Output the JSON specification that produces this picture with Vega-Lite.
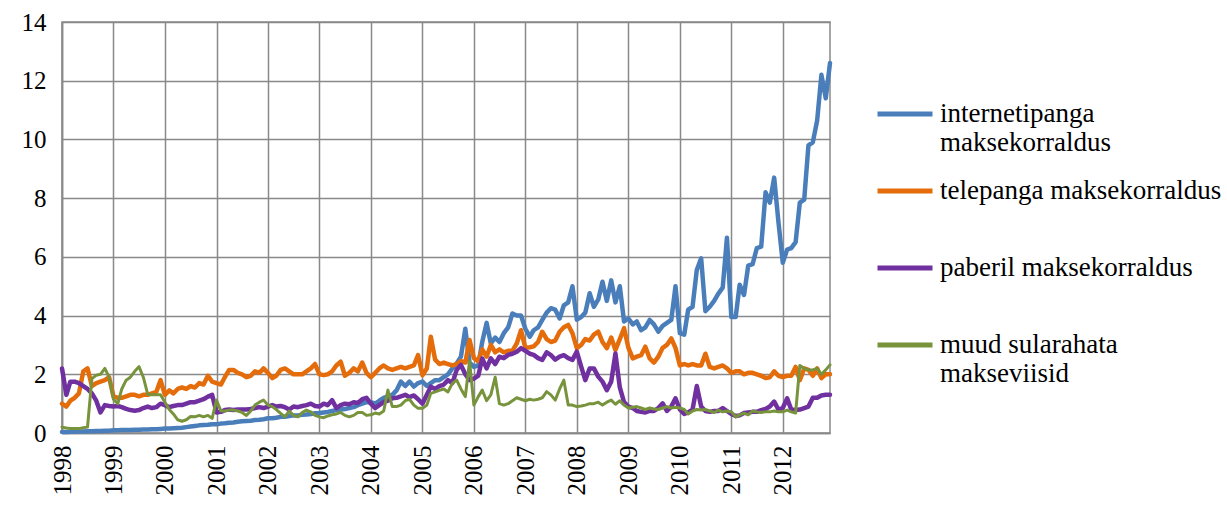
{
"$schema": "https://vega.github.io/schema/vega-lite/v6.json",
"width": 768, "height": 411,
"autosize": {"type": "none"},
"padding": {"left": 62, "top": 22, "right": 397, "bottom": 73},
"background": "white",
"config": {"font": "Liberation Serif", "view": {"stroke": "#898989", "strokeWidth": 1.5},
           "legend": {"labelFont": "Liberation Serif", "titleFont": "Liberation Serif"}},
"data": {"values": [
{"d":"1998-01-01","internet":0.03,"tele":1.0,"paber":2.2,"muud":0.2},
{"d":"1998-02-01","internet":0.03,"tele":0.9,"paber":1.3,"muud":0.17},
{"d":"1998-03-01","internet":0.04,"tele":1.1,"paber":1.75,"muud":0.15},
{"d":"1998-04-01","internet":0.04,"tele":1.2,"paber":1.75,"muud":0.15},
{"d":"1998-05-01","internet":0.05,"tele":1.35,"paber":1.7,"muud":0.15},
{"d":"1998-06-01","internet":0.05,"tele":2.1,"paber":1.6,"muud":0.18},
{"d":"1998-07-01","internet":0.06,"tele":2.2,"paber":1.5,"muud":0.2},
{"d":"1998-08-01","internet":0.06,"tele":1.6,"paber":1.35,"muud":1.85},
{"d":"1998-09-01","internet":0.07,"tele":1.7,"paber":1.1,"muud":1.97},
{"d":"1998-10-01","internet":0.07,"tele":1.75,"paber":0.7,"muud":2.0},
{"d":"1998-11-01","internet":0.08,"tele":1.8,"paber":0.95,"muud":2.2},
{"d":"1998-12-01","internet":0.08,"tele":1.9,"paber":0.92,"muud":1.9},
{"d":"1999-01-01","internet":0.09,"tele":1.25,"paber":0.9,"muud":1.15},
{"d":"1999-02-01","internet":0.09,"tele":1.2,"paber":0.92,"muud":1.0},
{"d":"1999-03-01","internet":0.1,"tele":1.2,"paber":0.88,"muud":1.5},
{"d":"1999-04-01","internet":0.1,"tele":1.25,"paber":0.82,"muud":1.8},
{"d":"1999-05-01","internet":0.1,"tele":1.3,"paber":0.78,"muud":1.9},
{"d":"1999-06-01","internet":0.11,"tele":1.3,"paber":0.76,"muud":2.1},
{"d":"1999-07-01","internet":0.11,"tele":1.25,"paber":0.78,"muud":2.26},
{"d":"1999-08-01","internet":0.12,"tele":1.3,"paber":0.85,"muud":1.9},
{"d":"1999-09-01","internet":0.12,"tele":1.3,"paber":0.9,"muud":1.32},
{"d":"1999-10-01","internet":0.13,"tele":1.35,"paber":0.85,"muud":1.3},
{"d":"1999-11-01","internet":0.13,"tele":1.4,"paber":0.88,"muud":1.3},
{"d":"1999-12-01","internet":0.14,"tele":1.8,"paber":1.0,"muud":1.3},
{"d":"2000-01-01","internet":0.15,"tele":1.3,"paber":0.95,"muud":1.05},
{"d":"2000-02-01","internet":0.15,"tele":1.45,"paber":0.88,"muud":0.8},
{"d":"2000-03-01","internet":0.16,"tele":1.35,"paber":0.92,"muud":0.65},
{"d":"2000-04-01","internet":0.17,"tele":1.5,"paber":0.95,"muud":0.45},
{"d":"2000-05-01","internet":0.18,"tele":1.55,"paber":0.95,"muud":0.4},
{"d":"2000-06-01","internet":0.2,"tele":1.5,"paber":1.0,"muud":0.45},
{"d":"2000-07-01","internet":0.22,"tele":1.6,"paber":1.05,"muud":0.56},
{"d":"2000-08-01","internet":0.24,"tele":1.55,"paber":1.05,"muud":0.55},
{"d":"2000-09-01","internet":0.26,"tele":1.7,"paber":1.1,"muud":0.6},
{"d":"2000-10-01","internet":0.27,"tele":1.65,"paber":1.15,"muud":0.55},
{"d":"2000-11-01","internet":0.28,"tele":1.95,"paber":1.24,"muud":0.6},
{"d":"2000-12-01","internet":0.3,"tele":1.75,"paber":1.3,"muud":0.5},
{"d":"2001-01-01","internet":0.3,"tele":1.7,"paber":0.7,"muud":1.12},
{"d":"2001-02-01","internet":0.32,"tele":1.65,"paber":0.72,"muud":0.75},
{"d":"2001-03-01","internet":0.33,"tele":1.9,"paber":0.78,"muud":0.75},
{"d":"2001-04-01","internet":0.35,"tele":2.15,"paber":0.8,"muud":0.78},
{"d":"2001-05-01","internet":0.36,"tele":2.15,"paber":0.78,"muud":0.78},
{"d":"2001-06-01","internet":0.38,"tele":2.05,"paber":0.8,"muud":0.75},
{"d":"2001-07-01","internet":0.4,"tele":2.0,"paber":0.8,"muud":0.7},
{"d":"2001-08-01","internet":0.41,"tele":1.9,"paber":0.8,"muud":0.6},
{"d":"2001-09-01","internet":0.42,"tele":1.95,"paber":0.82,"muud":0.75},
{"d":"2001-10-01","internet":0.44,"tele":2.1,"paber":0.85,"muud":0.95},
{"d":"2001-11-01","internet":0.45,"tele":2.05,"paber":0.88,"muud":1.05},
{"d":"2001-12-01","internet":0.47,"tele":2.2,"paber":0.85,"muud":1.12},
{"d":"2002-01-01","internet":0.5,"tele":2.05,"paber":0.9,"muud":0.95},
{"d":"2002-02-01","internet":0.5,"tele":1.87,"paber":0.95,"muud":0.9},
{"d":"2002-03-01","internet":0.52,"tele":1.95,"paber":0.9,"muud":0.8},
{"d":"2002-04-01","internet":0.55,"tele":2.15,"paber":0.92,"muud":0.67},
{"d":"2002-05-01","internet":0.55,"tele":2.2,"paber":0.88,"muud":0.55},
{"d":"2002-06-01","internet":0.58,"tele":2.1,"paber":0.8,"muud":0.75},
{"d":"2002-07-01","internet":0.6,"tele":2.0,"paber":0.9,"muud":0.6},
{"d":"2002-08-01","internet":0.6,"tele":2.0,"paber":0.88,"muud":0.55},
{"d":"2002-09-01","internet":0.62,"tele":2.0,"paber":0.92,"muud":0.7},
{"d":"2002-10-01","internet":0.63,"tele":2.1,"paber":0.95,"muud":0.78},
{"d":"2002-11-01","internet":0.65,"tele":2.2,"paber":1.0,"muud":0.72},
{"d":"2002-12-01","internet":0.67,"tele":2.35,"paber":0.92,"muud":0.6},
{"d":"2003-01-01","internet":0.68,"tele":2.0,"paber":0.9,"muud":0.55},
{"d":"2003-02-01","internet":0.7,"tele":1.97,"paber":1.0,"muud":0.52},
{"d":"2003-03-01","internet":0.72,"tele":2.0,"paber":0.95,"muud":0.58},
{"d":"2003-04-01","internet":0.75,"tele":2.1,"paber":1.12,"muud":0.62},
{"d":"2003-05-01","internet":0.78,"tele":2.3,"paber":0.85,"muud":0.65},
{"d":"2003-06-01","internet":0.8,"tele":2.43,"paber":0.95,"muud":0.7},
{"d":"2003-07-01","internet":0.82,"tele":1.95,"paber":1.0,"muud":0.6},
{"d":"2003-08-01","internet":0.85,"tele":2.05,"paber":0.98,"muud":0.55},
{"d":"2003-09-01","internet":0.88,"tele":2.2,"paber":1.05,"muud":0.6},
{"d":"2003-10-01","internet":0.95,"tele":2.1,"paber":1.02,"muud":0.7},
{"d":"2003-11-01","internet":1.0,"tele":2.4,"paber":1.15,"muud":0.7},
{"d":"2003-12-01","internet":1.05,"tele":2.05,"paber":1.2,"muud":0.6},
{"d":"2004-01-01","internet":1.05,"tele":1.9,"paber":1.0,"muud":0.62},
{"d":"2004-02-01","internet":1.0,"tele":2.05,"paber":0.85,"muud":0.68},
{"d":"2004-03-01","internet":1.1,"tele":2.2,"paber":0.95,"muud":0.65},
{"d":"2004-04-01","internet":1.2,"tele":2.3,"paber":1.05,"muud":0.75},
{"d":"2004-05-01","internet":1.25,"tele":2.2,"paber":1.1,"muud":1.46},
{"d":"2004-06-01","internet":1.3,"tele":2.15,"paber":1.18,"muud":0.9},
{"d":"2004-07-01","internet":1.45,"tele":2.2,"paber":1.2,"muud":0.9},
{"d":"2004-08-01","internet":1.75,"tele":2.25,"paber":1.25,"muud":0.95},
{"d":"2004-09-01","internet":1.6,"tele":2.2,"paber":1.3,"muud":1.1},
{"d":"2004-10-01","internet":1.75,"tele":2.25,"paber":1.22,"muud":1.15},
{"d":"2004-11-01","internet":1.58,"tele":2.3,"paber":1.28,"muud":0.95},
{"d":"2004-12-01","internet":1.7,"tele":2.65,"paber":1.15,"muud":0.84},
{"d":"2005-01-01","internet":1.75,"tele":1.97,"paber":1.0,"muud":0.84},
{"d":"2005-02-01","internet":1.6,"tele":2.2,"paber":1.3,"muud":0.95},
{"d":"2005-03-01","internet":1.7,"tele":3.28,"paber":1.58,"muud":1.35},
{"d":"2005-04-01","internet":1.8,"tele":2.5,"paber":1.5,"muud":1.4},
{"d":"2005-05-01","internet":1.8,"tele":2.35,"paber":1.6,"muud":1.45},
{"d":"2005-06-01","internet":1.9,"tele":2.4,"paber":1.65,"muud":1.5},
{"d":"2005-07-01","internet":2.0,"tele":2.35,"paber":1.8,"muud":1.4},
{"d":"2005-08-01","internet":2.2,"tele":2.3,"paber":1.7,"muud":1.69},
{"d":"2005-09-01","internet":2.37,"tele":2.35,"paber":2.15,"muud":1.8},
{"d":"2005-10-01","internet":2.6,"tele":2.45,"paber":2.32,"muud":1.5},
{"d":"2005-11-01","internet":3.55,"tele":2.4,"paber":2.0,"muud":1.24},
{"d":"2005-12-01","internet":2.4,"tele":3.17,"paber":1.8,"muud":2.45},
{"d":"2006-01-01","internet":2.25,"tele":2.55,"paber":1.85,"muud":0.95},
{"d":"2006-02-01","internet":2.3,"tele":2.45,"paber":1.95,"muud":1.24},
{"d":"2006-03-01","internet":3.1,"tele":2.85,"paber":2.54,"muud":1.46},
{"d":"2006-04-01","internet":3.75,"tele":2.6,"paber":2.2,"muud":1.1},
{"d":"2006-05-01","internet":3.05,"tele":3.0,"paber":2.54,"muud":1.3},
{"d":"2006-06-01","internet":3.25,"tele":2.75,"paber":2.35,"muud":1.9},
{"d":"2006-07-01","internet":3.1,"tele":2.85,"paber":2.6,"muud":1.0},
{"d":"2006-08-01","internet":3.4,"tele":2.75,"paber":2.55,"muud":0.95},
{"d":"2006-09-01","internet":3.6,"tele":2.8,"paber":2.66,"muud":1.0},
{"d":"2006-10-01","internet":4.07,"tele":2.8,"paber":2.7,"muud":1.1},
{"d":"2006-11-01","internet":4.0,"tele":3.05,"paber":2.77,"muud":1.2},
{"d":"2006-12-01","internet":4.0,"tele":3.5,"paber":2.89,"muud":1.15},
{"d":"2007-01-01","internet":3.55,"tele":2.9,"paber":2.8,"muud":1.1},
{"d":"2007-02-01","internet":3.28,"tele":2.92,"paber":2.7,"muud":1.15},
{"d":"2007-03-01","internet":3.5,"tele":2.95,"paber":2.66,"muud":1.12},
{"d":"2007-04-01","internet":3.6,"tele":3.1,"paber":2.55,"muud":1.15},
{"d":"2007-05-01","internet":3.85,"tele":3.45,"paber":2.49,"muud":1.2},
{"d":"2007-06-01","internet":4.1,"tele":3.2,"paber":2.75,"muud":1.41},
{"d":"2007-07-01","internet":4.25,"tele":3.1,"paber":2.65,"muud":1.3},
{"d":"2007-08-01","internet":4.2,"tele":3.15,"paber":2.5,"muud":1.12},
{"d":"2007-09-01","internet":3.9,"tele":3.45,"paber":2.6,"muud":1.5},
{"d":"2007-10-01","internet":4.35,"tele":3.6,"paber":2.65,"muud":1.8},
{"d":"2007-11-01","internet":4.45,"tele":3.68,"paber":2.55,"muud":0.95},
{"d":"2007-12-01","internet":5.0,"tele":3.4,"paber":2.49,"muud":0.95},
{"d":"2008-01-01","internet":3.86,"tele":2.89,"paber":2.77,"muud":0.9},
{"d":"2008-02-01","internet":3.95,"tele":3.0,"paber":2.26,"muud":0.92},
{"d":"2008-03-01","internet":4.1,"tele":3.2,"paber":1.8,"muud":0.95},
{"d":"2008-04-01","internet":4.76,"tele":3.15,"paber":2.2,"muud":1.0},
{"d":"2008-05-01","internet":4.3,"tele":3.35,"paber":2.2,"muud":1.0},
{"d":"2008-06-01","internet":4.55,"tele":3.45,"paber":1.92,"muud":1.05},
{"d":"2008-07-01","internet":5.15,"tele":3.1,"paber":1.75,"muud":0.95},
{"d":"2008-08-01","internet":4.5,"tele":2.89,"paber":1.46,"muud":1.05},
{"d":"2008-09-01","internet":5.2,"tele":3.25,"paber":1.75,"muud":1.12},
{"d":"2008-10-01","internet":4.45,"tele":2.83,"paber":2.71,"muud":0.98},
{"d":"2008-11-01","internet":5.0,"tele":3.2,"paber":1.55,"muud":1.1},
{"d":"2008-12-01","internet":3.8,"tele":3.57,"paber":1.05,"muud":0.95},
{"d":"2009-01-01","internet":3.9,"tele":2.9,"paber":0.9,"muud":0.85},
{"d":"2009-02-01","internet":3.7,"tele":2.54,"paber":0.85,"muud":0.88},
{"d":"2009-03-01","internet":3.8,"tele":2.6,"paber":0.75,"muud":0.9},
{"d":"2009-04-01","internet":3.5,"tele":2.65,"paber":0.72,"muud":0.85},
{"d":"2009-05-01","internet":3.6,"tele":2.94,"paber":0.7,"muud":0.8},
{"d":"2009-06-01","internet":3.85,"tele":2.54,"paber":0.75,"muud":0.85},
{"d":"2009-07-01","internet":3.7,"tele":2.4,"paber":0.75,"muud":0.82},
{"d":"2009-08-01","internet":3.45,"tele":2.6,"paber":0.85,"muud":0.8},
{"d":"2009-09-01","internet":3.65,"tele":2.9,"paber":1.01,"muud":0.85},
{"d":"2009-10-01","internet":3.75,"tele":3.0,"paber":0.75,"muud":0.9},
{"d":"2009-11-01","internet":3.85,"tele":3.22,"paber":0.9,"muud":0.85},
{"d":"2009-12-01","internet":5.0,"tele":2.9,"paber":1.18,"muud":0.88},
{"d":"2010-01-01","internet":3.4,"tele":2.3,"paber":0.8,"muud":0.85},
{"d":"2010-02-01","internet":3.35,"tele":2.35,"paber":0.65,"muud":0.8},
{"d":"2010-03-01","internet":4.2,"tele":2.3,"paber":0.7,"muud":0.65},
{"d":"2010-04-01","internet":4.3,"tele":2.35,"paber":0.8,"muud":0.75},
{"d":"2010-05-01","internet":5.55,"tele":2.3,"paber":1.6,"muud":0.8},
{"d":"2010-06-01","internet":5.95,"tele":2.3,"paber":0.9,"muud":0.78},
{"d":"2010-07-01","internet":4.15,"tele":2.7,"paber":0.75,"muud":0.8},
{"d":"2010-08-01","internet":4.3,"tele":2.25,"paber":0.72,"muud":0.75},
{"d":"2010-09-01","internet":4.5,"tele":2.2,"paber":0.75,"muud":0.7},
{"d":"2010-10-01","internet":4.75,"tele":2.25,"paber":0.75,"muud":0.78},
{"d":"2010-11-01","internet":4.95,"tele":2.3,"paber":0.85,"muud":0.72},
{"d":"2010-12-01","internet":6.65,"tele":2.2,"paber":0.75,"muud":0.75},
{"d":"2011-01-01","internet":3.95,"tele":2.05,"paber":0.65,"muud":0.72},
{"d":"2011-02-01","internet":3.95,"tele":2.1,"paber":0.58,"muud":0.55},
{"d":"2011-03-01","internet":5.05,"tele":2.1,"paber":0.6,"muud":0.62},
{"d":"2011-04-01","internet":4.7,"tele":2.0,"paber":0.68,"muud":0.68},
{"d":"2011-05-01","internet":5.7,"tele":2.05,"paber":0.7,"muud":0.62},
{"d":"2011-06-01","internet":5.75,"tele":2.05,"paber":0.72,"muud":0.75},
{"d":"2011-07-01","internet":6.3,"tele":2.0,"paber":0.72,"muud":0.72},
{"d":"2011-08-01","internet":6.35,"tele":1.95,"paber":0.78,"muud":0.7},
{"d":"2011-09-01","internet":8.2,"tele":1.87,"paber":0.82,"muud":0.72},
{"d":"2011-10-01","internet":7.85,"tele":1.9,"paber":0.9,"muud":0.72},
{"d":"2011-11-01","internet":8.7,"tele":2.1,"paber":1.07,"muud":0.75},
{"d":"2011-12-01","internet":7.2,"tele":1.95,"paber":0.8,"muud":0.72},
{"d":"2012-01-01","internet":5.8,"tele":1.9,"paber":0.85,"muud":0.72},
{"d":"2012-02-01","internet":6.25,"tele":1.95,"paber":1.18,"muud":0.78},
{"d":"2012-03-01","internet":6.3,"tele":1.95,"paber":0.8,"muud":0.72},
{"d":"2012-04-01","internet":6.5,"tele":2.25,"paber":0.78,"muud":0.68},
{"d":"2012-05-01","internet":7.85,"tele":1.8,"paber":0.8,"muud":2.3},
{"d":"2012-06-01","internet":7.95,"tele":2.2,"paber":0.85,"muud":2.2},
{"d":"2012-07-01","internet":9.8,"tele":2.15,"paber":0.9,"muud":2.15},
{"d":"2012-08-01","internet":9.9,"tele":1.95,"paber":1.2,"muud":2.15},
{"d":"2012-09-01","internet":10.65,"tele":2.2,"paber":1.2,"muud":2.2},
{"d":"2012-10-01","internet":12.2,"tele":1.87,"paber":1.28,"muud":2.0},
{"d":"2012-11-01","internet":11.4,"tele":2.0,"paber":1.3,"muud":2.15},
{"d":"2012-12-01","internet":12.6,"tele":2.0,"paber":1.3,"muud":2.32}
]},
"transform": [{"fold": ["internet", "tele", "paber", "muud"], "as": ["series", "value"]}],
"encoding": {
  "x": {"field": "d", "type": "temporal",
        "scale": {"type": "utc", "nice": false},
        "axis": {"title": null, "tickCount": {"interval": "year", "step": 1},
                 "labelExpr": "utcFormat(datum.value, '%Y')",
                 "labelAngle": -90, "labelFontSize": 25, "labelColor": "black", "labelFont": "Liberation Serif",
                 "ticks": false, "labelPadding": 12, "labelFlush": false, "labelOverlap": false,
                 "grid": true, "gridColor": "#898989", "gridWidth": 1.5,
                 "domainColor": "#898989", "domainWidth": 1.5}},
  "y": {"field": "value", "type": "quantitative",
        "scale": {"domain": [0, 14], "nice": false},
        "axis": {"title": null, "values": [0, 2, 4, 6, 8, 10, 12, 14],
                 "labelFontSize": 25, "labelColor": "black", "labelFont": "Liberation Serif",
                 "ticks": false, "labelPadding": 16,
                 "grid": true, "gridColor": "#898989", "gridWidth": 1.5,
                 "domainColor": "#898989", "domainWidth": 1.5}},
  "color": {"field": "series", "type": "nominal",
            "scale": {"domain": ["internet", "tele", "paber", "muud"],
                      "range": ["#4A7EBB", "#E46C0A", "#7030A0", "#77933C"]},
            "legend": {"title": null, "orient": "none", "legendX": 813, "legendY": 62,
                       "symbolType": "stroke", "symbolSize": 3025, "symbolStrokeWidth": 5,
                       "labelFontSize": 27, "labelColor": "black", "labelFont": "Liberation Serif",
                       "labelOffset": 5, "labelLimit": 420, "rowPadding": 5,
                       "labelExpr": "datum.value == 'internet' ? ['internetipanga', 'maksekorraldus'] : datum.value == 'tele' ? ['telepanga maksekorraldus', ''] : datum.value == 'paber' ? ['paberil maksekorraldus', ''] : ['muud sularahata', 'makseviisid']"}}
},
"layer": [
  {"transform": [{"filter": "datum.series != 'muud'"}],
   "mark": {"type": "line", "strokeWidth": 4.5, "strokeJoin": "round", "strokeCap": "round"}},
  {"transform": [{"filter": "datum.series == 'muud'"}],
   "mark": {"type": "line", "strokeWidth": 3, "strokeJoin": "round", "strokeCap": "round"}}
]
}
